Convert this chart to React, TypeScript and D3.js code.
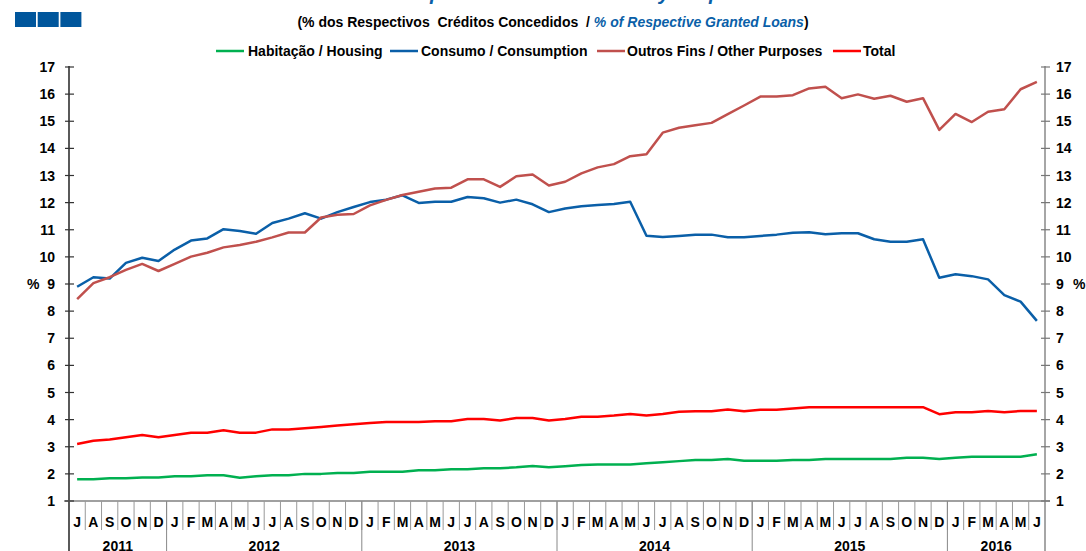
import { useEffect, useRef } from 'react'
import * as d3 from 'd3'

const monthLetters = ['J', 'A', 'S', 'O', 'N', 'D', 'J', 'F', 'M', 'A', 'M', 'J', 'J', 'A', 'S', 'O', 'N', 'D', 'J', 'F', 'M', 'A', 'M', 'J', 'J', 'A', 'S', 'O', 'N', 'D', 'J', 'F', 'M', 'A', 'M', 'J', 'J', 'A', 'S', 'O', 'N', 'D', 'J', 'F', 'M', 'A', 'M', 'J', 'J', 'A', 'S', 'O', 'N', 'D', 'J', 'F', 'M', 'A', 'M', 'J']
const years = ['2011', '2012', '2013', '2014', '2015', '2016']
const monthsPerYear = [6, 12, 12, 12, 12, 6]
const yTicks = [1, 2, 3, 4, 5, 6, 7, 8, 9, 10, 11, 12, 13, 14, 15, 16, 17]

const housing = [1.80, 1.80, 1.84, 1.84, 1.87, 1.87, 1.91, 1.91, 1.95, 1.95, 1.86, 1.91, 1.95, 1.95, 2.0, 2.0, 2.03, 2.03, 2.08, 2.08, 2.08, 2.13, 2.13, 2.17, 2.17, 2.21, 2.21, 2.24, 2.29, 2.24, 2.28, 2.33, 2.35, 2.35, 2.35, 2.39, 2.43, 2.47, 2.51, 2.51, 2.55, 2.48, 2.48, 2.48, 2.51, 2.51, 2.55, 2.55, 2.55, 2.55, 2.55, 2.59, 2.59, 2.55, 2.59, 2.63, 2.63, 2.63, 2.63, 2.72]
const consumption = [8.9, 9.25, 9.2, 9.78, 9.97, 9.85, 10.27, 10.6, 10.68, 11.02, 10.95, 10.85, 11.25, 11.41, 11.61, 11.41, 11.65, 11.84, 12.02, 12.11, 12.27, 11.99, 12.03, 12.03, 12.21, 12.16, 12.0, 12.11, 11.94, 11.65, 11.78, 11.87, 11.91, 11.95, 12.03, 10.78, 10.73, 10.77, 10.82, 10.82, 10.72, 10.72, 10.77, 10.82, 10.89, 10.91, 10.83, 10.87, 10.87, 10.65, 10.56, 10.56, 10.65, 9.23, 9.36, 9.29, 9.17, 8.59, 8.35, 7.64]
const otherPurposes = [8.44, 9.03, 9.25, 9.52, 9.74, 9.48, 9.74, 10.01, 10.15, 10.35, 10.44, 10.56, 10.72, 10.9, 10.9, 11.45, 11.55, 11.58, 11.9, 12.1, 12.28, 12.4, 12.52, 12.55, 12.86, 12.86, 12.58, 12.97, 13.04, 12.63, 12.77, 13.08, 13.3, 13.42, 13.71, 13.78, 14.58, 14.76, 14.85, 14.94, 15.26, 15.58, 15.91, 15.91, 15.96, 16.21, 16.27, 15.85, 15.99, 15.83, 15.94, 15.72, 15.85, 14.68, 15.27, 14.97, 15.35, 15.44, 16.18, 16.45]
const total = [3.10, 3.22, 3.27, 3.35, 3.43, 3.35, 3.43, 3.52, 3.52, 3.61, 3.52, 3.52, 3.64, 3.64, 3.68, 3.73, 3.78, 3.83, 3.88, 3.91, 3.91, 3.91, 3.94, 3.94, 4.02, 4.02, 3.97, 4.06, 4.06, 3.97, 4.02, 4.11, 4.11, 4.15, 4.21, 4.15, 4.21, 4.29, 4.31, 4.31, 4.37, 4.31, 4.36, 4.36, 4.41, 4.46, 4.46, 4.46, 4.46, 4.46, 4.46, 4.46, 4.46, 4.20, 4.27, 4.27, 4.32, 4.27, 4.32, 4.32]

const seriesList = [
  { name: 'Habitação / Housing', color: '#00b050', values: housing, lx: 216, tx: 248 },
  { name: 'Consumo / Consumption', color: '#0a5fa8', values: consumption, lx: 390, tx: 421 },
  { name: 'Outros Fins / Other Purposes', color: '#c0504d', values: otherPurposes, lx: 597, tx: 627 },
  { name: 'Total', color: '#ff0000', values: total, lx: 833, tx: 863 },
]

const W = 1086
const H = 551
const FONT = 'Liberation Sans, Arial, sans-serif'

export default function App() {
  const ref = useRef<SVGSVGElement | null>(null)
  useEffect(() => {
    const svg = d3.select(ref.current)
    svg.selectAll('*').remove()
    const left = 69
    const right = 1045
    const top = 67
    const bottom = 501

    const x = d3.scaleBand<number>().domain(d3.range(monthLetters.length)).range([left, right])
    const y = d3.scaleLinear().domain([1, 17]).range([bottom, top])

    // header (title is cropped at the top edge, as in the source)
    svg.append('text').attr('x', 555).attr('y', 0).attr('text-anchor', 'middle')
      .attr('font-family', FONT).attr('font-size', 20).attr('font-weight', 'bold').attr('font-style', 'italic')
      .attr('fill', '#0a5fa8').text('Crédito por Finalidade / Credit by Purpose')
    for (let i = 0; i < 3; i++) {
      svg.append('rect').attr('x', 15 + i * 22.7).attr('y', 12).attr('width', 21).attr('height', 15).attr('fill', '#00569c')
    }
    const sub = svg.append('text').attr('x', 553).attr('y', 27).attr('text-anchor', 'middle')
      .attr('font-family', FONT).attr('font-size', 14).attr('font-weight', 'bold').attr('fill', '#000')
      .style('white-space', 'pre')
    sub.append('tspan').text('(% dos Respectivos  Créditos Concedidos  / ')
    sub.append('tspan').attr('fill', '#0a5fa8').attr('font-style', 'italic').text('% of Respective Granted Loans')
    sub.append('tspan').text(')')

    // legend
    for (const s of seriesList) {
      svg.append('line').attr('x1', s.lx).attr('x2', s.lx + 28).attr('y1', 51).attr('y2', 51)
        .attr('stroke', s.color).attr('stroke-width', 2.5)
      svg.append('text').attr('x', s.tx).attr('y', 56).attr('font-family', FONT).attr('font-size', 14)
        .attr('font-weight', 'bold').attr('fill', '#000').text(s.name)
    }

    // axes
    svg.append('line').attr('x1', left).attr('x2', left).attr('y1', top - 1).attr('y2', H).attr('stroke', '#000').attr('stroke-width', 1.3)
    svg.append('line').attr('x1', right).attr('x2', right).attr('y1', top - 1).attr('y2', H).attr('stroke', '#888').attr('stroke-width', 1.5)
    svg.append('line').attr('x1', left - 5).attr('x2', right + 5).attr('y1', bottom).attr('y2', bottom).attr('stroke', '#808080').attr('stroke-width', 1.5)

    for (const t of yTicks) {
      const yy = y(t)
      svg.append('line').attr('x1', left - 4).attr('x2', left + 5).attr('y1', yy).attr('y2', yy).attr('stroke', '#333').attr('stroke-width', 1.2)
      svg.append('line').attr('x1', right - 4).attr('x2', right + 5).attr('y1', yy).attr('y2', yy).attr('stroke', '#777').attr('stroke-width', 1.2)
      svg.append('text').attr('x', 55).attr('y', yy + 5).attr('text-anchor', 'end').attr('font-family', FONT)
        .attr('font-size', 14).attr('font-weight', 'bold').text(String(t))
      svg.append('text').attr('x', 1056).attr('y', yy + 5).attr('font-family', FONT)
        .attr('font-size', 14).attr('font-weight', 'bold').text(String(t))
    }
    svg.append('text').attr('x', 27).attr('y', y(9) + 5).attr('font-family', FONT).attr('font-size', 14).attr('font-weight', 'bold').text('%')
    svg.append('text').attr('x', 1073).attr('y', y(9) + 5).attr('font-family', FONT).attr('font-size', 14).attr('font-weight', 'bold').text('%')

    // month labels and separators
    const bw = x.bandwidth()
    monthLetters.forEach((m, i) => {
      const x0 = x(i) ?? 0
      if (i > 0) {
        svg.append('line').attr('x1', x0).attr('x2', x0).attr('y1', bottom).attr('y2', 530).attr('stroke', '#999').attr('stroke-width', 1)
      }
      svg.append('text').attr('x', x0 + bw / 2).attr('y', 527).attr('text-anchor', 'middle').attr('font-family', FONT)
        .attr('font-size', 14).attr('font-weight', 'bold').text(m)
    })
    let start = 0
    years.forEach((yr, k) => {
      const n = monthsPerYear[k]
      const x0 = x(start) ?? 0
      const x1 = start + n < monthLetters.length ? (x(start + n) ?? 0) : right
      if (k > 0) {
        svg.append('line').attr('x1', x0).attr('x2', x0).attr('y1', bottom).attr('y2', H).attr('stroke', '#888').attr('stroke-width', 1)
      }
      svg.append('text').attr('x', (x0 + x1) / 2).attr('y', 551).attr('text-anchor', 'middle').attr('font-family', FONT)
        .attr('font-size', 14).attr('font-weight', 'bold').text(yr)
      start += n
    })

    // series
    const lineGen = d3.line<number>()
      .x((_d: number, i: number) => (x(i) ?? 0) + bw / 2)
      .y((d: number) => y(d))
    for (const s of seriesList) {
      svg.append('path').datum(s.values).attr('fill', 'none').attr('stroke', s.color)
        .attr('stroke-width', 2.5).attr('stroke-linejoin', 'round').attr('d', lineGen as any)
    }
  }, [])
  return (
    <svg ref={ref} width={W} height={H} style={{ position: 'absolute', left: 0, top: 0, background: '#fff' }} />
  )
}
